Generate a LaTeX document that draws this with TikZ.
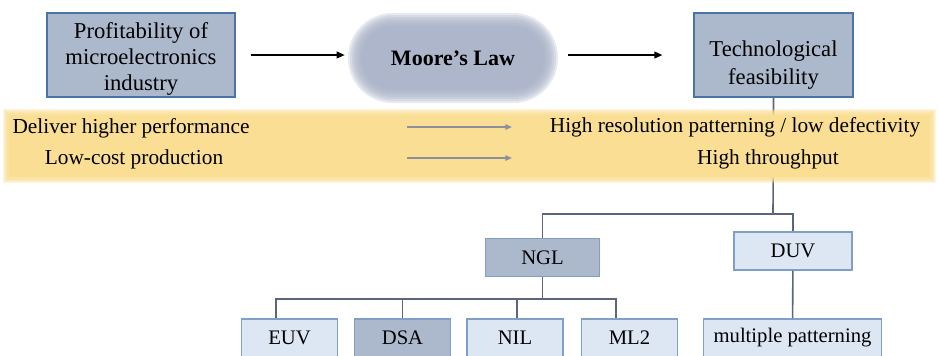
\documentclass[tikz,border=0pt]{standalone}
\usepackage{fontspec}
\setmainfont{Liberation Serif}
\usetikzlibrary{calc,arrows.meta}
\definecolor{boxgrey}{RGB}{172,184,204}
\definecolor{boxedge}{RGB}{74,115,166}
\definecolor{boxlight}{RGB}{221,231,243}
\definecolor{lightedge}{RGB}{127,159,198}
\definecolor{treeline}{RGB}{92,102,122}
\definecolor{bandyellow}{RGB}{249,222,147}
\definecolor{moorefill}{RGB}{166,176,197}
\definecolor{bandarrow}{RGB}{138,144,156}
\begin{document}
\begin{tikzpicture}
[x=0.75pt,y=-0.75pt,
  topbox/.style={draw=boxedge,fill=boxgrey,line width=1.6pt,inner sep=0pt},
  toptext/.style={align=center,inner sep=0pt,font=\fontsize{17}{19.5}\selectfont},
  treebox/.style={draw=lightedge,fill=boxlight,line width=0.9pt,inner sep=0pt,
    minimum height=28.5pt,font=\fontsize{15.5}{18}\selectfont},
  bandtext/.style={inner sep=0pt,font=\fontsize{16}{18}\selectfont},
  flowarrow/.style={-{Triangle[length=6pt,width=5pt]},line width=1.2pt},
  bandflow/.style={-{Triangle[length=5pt,width=4pt]},line width=1.2pt,draw=bandarrow},
  treeedge/.style={draw=treeline,line width=1.2pt}]
\useasboundingbox (0,0) rectangle (939,355);
\clip (0,0) rectangle (939,355);
%% top row
\node (prof) at (141,55) [topbox,minimum width=141pt,minimum height=63pt] {};
\node (proftext) at (141,59) [toptext] {Profitability of\\microelectronics\\industry};
\node (tech) at (773.5,55) [topbox,minimum width=119pt,minimum height=63pt] {};
\node (techtext) at (773.5,65) [toptext,font=\fontsize{17}{21}\selectfont] {Technological\\feasibility};
%% blurred Moore's Law pill
\foreach \k in {0,...,7} {
  \pgfmathsetmacro{\hw}{105-2*\k}
  \pgfmathsetmacro{\hh}{45-2*\k}
  \fill[moorefill,opacity=0.27,rounded corners=0.74*\hh pt]
    (453-\hw,58-\hh) rectangle (453+\hw,58+\hh);
}
\node (moore) at (453,58) [minimum width=150pt,minimum height=62pt,inner sep=0pt,
  font=\bfseries\fontsize{16.5}{18}\selectfont] {Moore's Law};
%% arrows of the top row
\draw[flowarrow,shorten <=11pt,shorten >=6pt] (prof.east) -- (prof.east -| moore.west);
\draw[flowarrow,shorten <=11pt,shorten >=23pt] (moore.east |- tech.west) -- (tech.west);
%% tree (the trunk runs under the band)
\draw[treeedge] (tech.south) -- (773,214) coordinate (split);
%% yellow band
\foreach \k in {0,...,5} {
  \fill[bandyellow,opacity=0.3] (3+\k,109+\k) rectangle (936-\k,183-\k);
}
\fill[bandyellow] (9,115) rectangle (930,177);
\node (perf) at (131,128) [bandtext] {Deliver higher performance};
\node (cost) at (134,159) [bandtext] {Low-cost production};
\node (resol) at (735,127) [bandtext] {High resolution patterning / low defectivity};
\node (thru) at (768,159) [bandtext] {High throughput};
\foreach \row/\y in {perf/127, cost/158} {
  \coordinate (\row tail) at (407,\y);
  \coordinate (\row head) at (512,\y);
  \draw[bandflow] (\row tail) -- (\row head);
}
%% lithography boxes
\node (ngl) at (542.5,257.5) [treebox,fill=boxgrey,minimum width=86pt] {NGL};
\node (duv) at (793,251) [treebox,minimum width=88.5pt] {DUV};
\foreach \nodename/\x/\txt/\shade in {euv/289.5/EUV/boxlight, dsa/402.5/DSA/boxgrey,
  nil/515/NIL/boxlight, ml2/629.5/ML2/boxlight} {
  \node (\nodename) at (\x,338) [treebox,fill=\shade,minimum width=72pt] {\txt};
}
\node (mp) at (792.5,338) [treebox,minimum width=134pt] {multiple patterning};
%% tree edges
\draw[treeedge] (ngl.north) |- (split) -| (duv.north);
\draw[treeedge] (ngl.south) -- ++(0,22) coordinate (nglsplit);
\foreach \nodename/\drop in {euv/-13.5, dsa/0, nil/2, ml2/-13.5} {
  \draw[treeedge] (nglsplit) -| ($(\nodename.north)+(\drop,0)$);
}
\draw[treeedge] (duv) -- (mp);
\end{tikzpicture}
\end{document}
